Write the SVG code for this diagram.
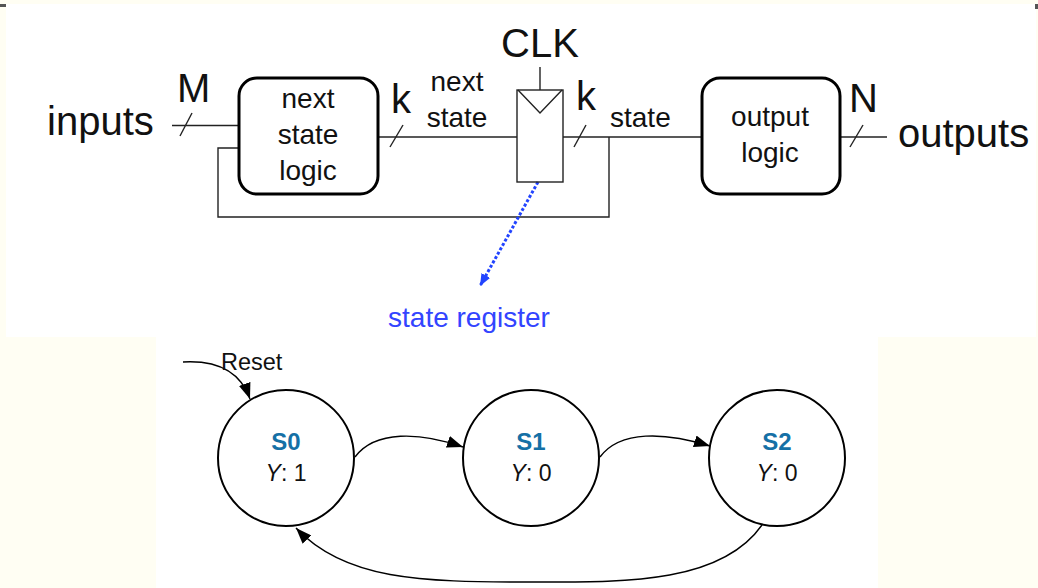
<svg xmlns="http://www.w3.org/2000/svg" width="1038" height="588" viewBox="0 0 1038 588">
  <style>
    .big { font-family: "Liberation Sans", Arial, sans-serif; font-size: 40px; fill: #111; }
    .mid { font-family: "Liberation Sans", Arial, sans-serif; font-size: 28px; fill: #111; }
    .blk { fill: #fff; stroke: #000; stroke-width: 3; }
    .wire { fill: none; stroke: #222; stroke-width: 1.4; }
    .state { fill: #fff; stroke: #000; stroke-width: 2; }
    .sname { font-family: "Liberation Sans", Helvetica, Arial, sans-serif; font-size: 24px; font-weight: bold; fill: #1570a6; text-anchor: middle; }
    .sout { font-family: "Liberation Sans", Helvetica, Arial, sans-serif; font-size: 23px; fill: #111; text-anchor: middle; }
    .edge { fill: none; stroke: #000; stroke-width: 1.4; }
  </style>
  <defs>
    <marker id="arrow" viewBox="0 0 16 12" refX="16" refY="6" markerWidth="16" markerHeight="12" markerUnits="userSpaceOnUse" orient="auto">
      <path d="M0,0 L16,6 L0,12 Z" fill="#000"/>
    </marker>
    <marker id="arrowBlue" viewBox="0 0 12 10" refX="12" refY="5" markerWidth="12" markerHeight="10" markerUnits="userSpaceOnUse" orient="auto">
      <path d="M0,0 L12,5 L0,10 Z" fill="#2244ff"/>
    </marker>
  </defs>

  <!-- page background and panels -->
  <rect x="0" y="0" width="1038" height="588" fill="#fffef3"/>
  <rect x="6" y="4" width="1030" height="333" fill="#fff"/>
  <rect x="156" y="337" width="722" height="251" fill="#fff"/>
  <rect x="0" y="4" width="6" height="3" fill="#555"/>
  <rect x="1035" y="4" width="3" height="5" fill="#555"/>

  <!-- ===== Moore machine block diagram ===== -->
  <g id="connectors-top">
    <line class="wire" x1="172" y1="125.5" x2="239" y2="125.5"/>
    <line class="wire" x1="378" y1="137" x2="517" y2="137"/>
    <line class="wire" x1="563" y1="137" x2="702" y2="137"/>
    <line class="wire" x1="840" y1="137" x2="887" y2="137"/>
    <polyline class="wire" points="239,148 218,148 218,217 609,217 609,137"/>
    <line class="wire" x1="540" y1="67" x2="540" y2="90"/>
    <!-- bus width slashes -->
    <line class="wire" x1="180" y1="136" x2="192" y2="113"/>
    <line class="wire" x1="390" y1="147" x2="403" y2="125"/>
    <line class="wire" x1="574" y1="147" x2="586" y2="125"/>
    <line class="wire" x1="850" y1="147" x2="863" y2="125"/>
    <!-- pointer to the state register -->
    <line x1="538" y1="182" x2="480" y2="286" stroke="#2244ff" stroke-width="3" stroke-dasharray="3 2" marker-end="url(#arrowBlue)"/>
  </g>

  <g id="next-state-logic">
    <rect class="blk" x="239" y="78" width="139" height="116" rx="18"/>
    <text class="mid" x="308" y="108" text-anchor="middle">next</text>
    <text class="mid" x="308" y="144" text-anchor="middle">state</text>
    <text class="mid" x="308" y="180" text-anchor="middle">logic</text>
  </g>

  <g id="state-register">
    <rect class="wire" x="517" y="90" width="46" height="92" fill="#fff"/>
    <polyline class="wire" points="518,90 540,113 562,90"/>
  </g>

  <g id="output-logic">
    <rect class="blk" x="702" y="78" width="138" height="116" rx="18"/>
    <text class="mid" x="770" y="126" text-anchor="middle">output</text>
    <text class="mid" x="770" y="162" text-anchor="middle">logic</text>
  </g>

  <g id="labels-top">
    <text class="big" x="47" y="135">inputs</text>
    <text class="big" x="177" y="102">M</text>
    <text class="big" x="391" y="113">k</text>
    <text class="big" x="540" y="57" text-anchor="middle">CLK</text>
    <text class="big" x="576" y="110">k</text>
    <text class="big" x="849" y="112">N</text>
    <text class="big" x="898" y="147">outputs</text>
    <text class="mid" x="457" y="91" text-anchor="middle">next</text>
    <text class="mid" x="457" y="127" text-anchor="middle">state</text>
    <text class="mid" x="610" y="127">state</text>
    <text x="469" y="327" text-anchor="middle" font-family="Liberation Sans, Arial, sans-serif" font-size="28" fill="#3344ff">state register</text>
  </g>

  <!-- ===== State transition diagram ===== -->
  <g id="connectors-fsm">
    <path class="edge" d="M183,362 Q236,359 250,399" marker-end="url(#arrow)"/>
    <path class="edge" d="M355,457 C375,430 420,432 463,447" marker-end="url(#arrow)"/>
    <path class="edge" d="M600,457 C620,430 665,432 710,446" marker-end="url(#arrow)"/>
    <path class="edge" d="M762,525 C720,585 620,582 530,582 C420,582 345,580 296,528" marker-end="url(#arrow)"/>
    <text x="221" y="370" font-family="Liberation Sans, Helvetica, Arial, sans-serif" font-size="23.5" fill="#111">Reset</text>
  </g>

  <g id="S0">
    <circle class="state" cx="286" cy="458" r="68"/>
    <text class="sname" x="286" y="450">S0</text>
    <text class="sout" x="286" y="481"><tspan font-style="italic">Y</tspan>: 1</text>
  </g>

  <g id="S1">
    <circle class="state" cx="531" cy="458" r="68"/>
    <text class="sname" x="531" y="450">S1</text>
    <text class="sout" x="531" y="481"><tspan font-style="italic">Y</tspan>: 0</text>
  </g>

  <g id="S2">
    <circle class="state" cx="777" cy="458" r="68"/>
    <text class="sname" x="777" y="450">S2</text>
    <text class="sout" x="777" y="481"><tspan font-style="italic">Y</tspan>: 0</text>
  </g>
</svg>
